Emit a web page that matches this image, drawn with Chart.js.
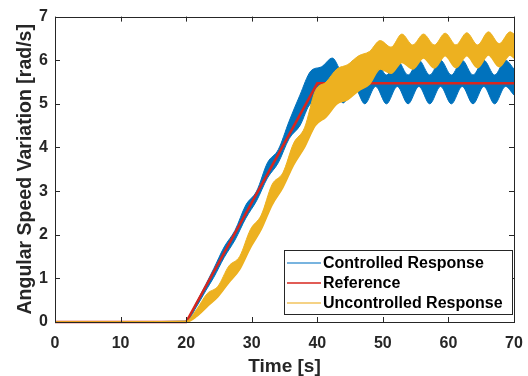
<!DOCTYPE html>
<html>
<head>
<meta charset="utf-8">
<script src="https://cdn.jsdelivr.net/npm/chart.js@4"></script>
<style>
  html, body { margin: 0; padding: 0; background: #fff; }
</style>
</head>
<body>
<canvas id="myChart" width="528" height="376"></canvas>
<script>
// reference signal
const refTime  = [0, 20, 40, 70];
const refValue = [0, 0, 5.47, 5.47];

// controlled response, read as upper / lower edge of the oscillation band
const ctrlTime  = [0, 20, 21.5, 23, 24.2, 25.8, 27.45, 29.1, 30.75, 32.4, 34.05, 35.7, 37.35, 39.0, 40.65,
                   42.3, 43.95, 45.6, 47.25, 48.9, 50.55, 52.2, 53.85, 55.5, 57.15, 58.8, 60.45, 62.1, 63.75,
                   65.4, 67.05, 68.7, 70];
const ctrlUpper = [0, 0.02, 0.43, 0.86, 1.22, 1.72, 2.1, 2.68, 3.0, 3.65, 3.95, 4.6, 5.2, 5.75, 5.85,
                   6.05, 5.7, 6.0, 5.66, 6.0, 5.66, 6.0, 5.66, 6.0, 5.66, 6.0, 5.66, 6.0, 5.66,
                   6.0, 5.66, 6.0, 5.8];
const ctrlLower = [0, 0, 0.33, 0.72, 1.02, 1.48, 1.88, 2.38, 2.78, 3.3, 3.65, 4.2, 4.5, 5.0, 5.05,
                   5.4, 5.02, 5.4, 5.0, 5.4, 5.0, 5.4, 5.0, 5.4, 5.0, 5.4, 5.0, 5.4, 5.0,
                   5.4, 5.0, 5.4, 5.2];

// uncontrolled response, same idea
const uncTime  = [0, 20, 21.55, 23.2, 24.85, 26.5, 28.15, 29.8, 31.45, 33.1, 34.75, 36.4, 38.05, 39.7, 41.35,
                  43.0, 44.65, 46.3, 47.95, 49.6, 51.25, 52.9, 54.55, 56.2, 57.85, 59.5, 61.15, 62.8, 64.45,
                  66.1, 67.75, 69.4, 70];
const uncUpper = [0, 0.02, 0.28, 0.65, 0.82, 1.28, 1.5, 2.12, 2.45, 3.15, 3.42, 4.1, 4.45, 5.3, 5.5,
                  5.8, 5.9, 6.1, 6.2, 6.45, 6.3, 6.6, 6.35, 6.6, 6.35, 6.62, 6.35, 6.63, 6.35,
                  6.65, 6.38, 6.65, 6.6];
const uncLower = [0, 0, 0.12, 0.35, 0.58, 0.9, 1.2, 1.7, 2.12, 2.68, 3.08, 3.6, 4.0, 4.5, 4.7,
                  5.0, 5.1, 5.3, 5.45, 5.8, 5.7, 5.95, 5.8, 6.05, 5.82, 6.1, 5.83, 6.1, 5.83,
                  6.12, 5.85, 6.12, 6.05];

const xTicks = [0, 10, 20, 30, 40, 50, 60, 70];
const yTicks = [0, 1, 2, 3, 4, 5, 6, 7];

const BLUE = '#0072BD';
const RED = '#D7261E';
const YELLOW = '#EDB120';
const AXIS = '#262626';
const FONT = '"Liberation Sans", Arial, sans-serif';

const pts = (xs, ys) => xs.map((x, i) => ({ x: x, y: ys[i] }));

// frame with inward ticks on all four sides, like the original plot
const framePlugin = {
    id: 'frame',
    afterDatasetsDraw(chart) {
        const { ctx, chartArea: a, scales } = chart;
        ctx.save();
        ctx.strokeStyle = AXIS;
        ctx.lineWidth = 1;
        ctx.beginPath();
        scales.x.ticks.forEach(t => {
            const px = Math.round(scales.x.getPixelForValue(t.value)) + 0.5;
            ctx.moveTo(px, a.bottom); ctx.lineTo(px, a.bottom - 5);
            ctx.moveTo(px, a.top); ctx.lineTo(px, a.top + 5);
        });
        scales.y.ticks.forEach(t => {
            const py = Math.round(scales.y.getPixelForValue(t.value)) + 0.5;
            ctx.moveTo(a.left, py); ctx.lineTo(a.left + 5, py);
            ctx.moveTo(a.right, py); ctx.lineTo(a.right - 5, py);
        });
        ctx.stroke();
        ctx.strokeRect(Math.round(a.left) + 0.5, Math.round(a.top) + 0.5,
                       Math.round(a.right - a.left), Math.round(a.bottom - a.top));
        ctx.restore();
    }
};

// legend box in the lower right corner of the plot
const boxLegend = {
    id: 'boxLegend',
    afterDraw(chart) {
        const { ctx, chartArea: a } = chart;
        const items = chart.data.datasets.filter(d => d.label);
        const x0 = a.right - 230, y0 = a.bottom - 72, w = 228, h = 64;
        ctx.save();
        ctx.fillStyle = '#fff';
        ctx.fillRect(x0, y0, w, h);
        ctx.strokeStyle = AXIS;
        ctx.lineWidth = 1;
        ctx.strokeRect(Math.round(x0) + 0.5, Math.round(y0) + 0.5, w, h);
        ctx.font = 'bold 16px ' + FONT;
        ctx.textBaseline = 'middle';
        items.forEach((d, i) => {
            const y = y0 + 13 + i * 20;
            ctx.strokeStyle = d.legendColor;
            ctx.lineWidth = 1.5;
            ctx.beginPath();
            ctx.moveTo(x0 + 3, y); ctx.lineTo(x0 + 37, y);
            ctx.stroke();
            ctx.fillStyle = '#000';
            ctx.fillText(d.label, x0 + 39, y + 1);
        });
        ctx.restore();
    }
};

new Chart(document.getElementById('myChart'), {
    type: 'line',
    data: {
        datasets: [
            {
                label: 'Controlled Response',
                legendColor: '#4B9BD5',
                data: pts(ctrlTime, ctrlUpper),
                borderColor: BLUE,
                backgroundColor: BLUE,
                borderWidth: 1,
                fill: '+1',
                order: 2
            },
            {
                data: pts(ctrlTime, ctrlLower),
                borderColor: BLUE,
                borderWidth: 1,
                fill: false,
                order: 2
            },
            {
                label: 'Reference',
                legendColor: RED,
                data: pts(refTime, refValue),
                borderColor: RED,
                borderWidth: 2.5,
                fill: false,
                tension: 0,
                cubicInterpolationMode: 'default',
                clip: 3,
                order: 1
            },
            {
                label: 'Uncontrolled Response',
                legendColor: '#F2C35C',
                data: pts(uncTime, uncUpper),
                borderColor: YELLOW,
                backgroundColor: YELLOW,
                borderWidth: 1,
                fill: '+1',
                clip: 3,
                order: 0
            },
            {
                data: pts(uncTime, uncLower),
                borderColor: YELLOW,
                borderWidth: 1.5,
                fill: false,
                clip: 3,
                order: 0
            }
        ]
    },
    options: {
        responsive: false,
        animation: false,
        devicePixelRatio: 1,
        layout: { padding: { top: 14, right: 14, left: 0, bottom: 0 } },
        elements: {
            point: { radius: 0 },
            line: { cubicInterpolationMode: 'monotone' }
        },
        plugins: {
            legend: { display: false },
            tooltip: { enabled: false }
        },
        scales: {
            x: {
                type: 'linear',
                min: 0,
                max: 70,
                afterBuildTicks: s => { s.ticks = xTicks.map(v => ({ value: v })); },
                afterFit: s => { s.height = 54; },
                grid: { display: false, drawTicks: true, tickLength: 7 },
                border: { display: false },
                ticks: {
                    color: AXIS,
                    padding: 5,
                    maxRotation: 0,
                    font: { family: FONT, size: 16, weight: 'bold' }
                },
                title: {
                    display: true,
                    text: 'Time [s]',
                    color: AXIS,
                    padding: 0,
                    font: { family: FONT, size: 19, weight: 'bold', lineHeight: 1 }
                }
            },
            y: {
                type: 'linear',
                min: 0,
                max: 7,
                afterBuildTicks: s => { s.ticks = yTicks.map(v => ({ value: v })); },
                afterFit: s => { s.width = 55; },
                grid: { display: false, drawTicks: false },
                border: { display: false },
                ticks: {
                    color: AXIS,
                    padding: 7,
                    font: { family: FONT, size: 16, weight: 'bold' }
                },
                title: {
                    display: true,
                    text: 'Angular Speed Variation [rad/s]',
                    color: AXIS,
                    padding: { top: 16, bottom: 0 },
                    font: { family: FONT, size: 19.5, weight: 'bold', lineHeight: 1 }
                }
            }
        }
    },
    plugins: [framePlugin, boxLegend]
});
</script>
</body>
</html>
